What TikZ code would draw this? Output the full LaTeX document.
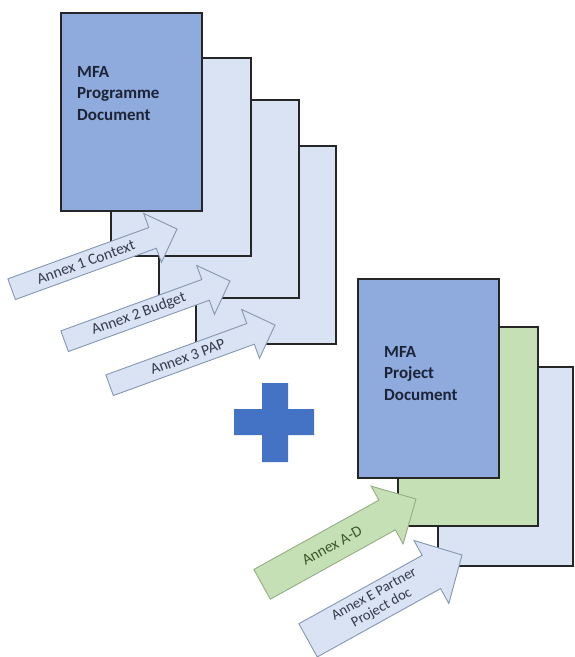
\documentclass[tikz,border=0pt]{standalone}
\usepackage{fontspec}
\setmainfont{Carlito}
\definecolor{docblue}{HTML}{8FAADC}
\definecolor{pageblue}{HTML}{DAE3F3}
\definecolor{pagegreen}{HTML}{C5E0B4}
\definecolor{plusblue}{HTML}{4472C4}
\definecolor{edgedark}{HTML}{262626}
\definecolor{arrowedge}{HTML}{8497B0}
\definecolor{greenedge}{HTML}{93AD85}
\definecolor{titleink}{HTML}{1C2336}
\definecolor{labelgrey}{HTML}{343a48}
\definecolor{labelgreen}{HTML}{3B5A28}
\begin{document}
\begin{tikzpicture}[x=1pt,y=-1pt,
  page/.style={draw=edgedark, line width=1.6pt, inner sep=0pt, anchor=north west,
    minimum width=140pt, minimum height=198pt},
  sheet/.style={page, fill=pageblue},
  maindoc/.style={page, fill=docblue},
  greensheet/.style={page, fill=pagegreen},
  doctitle/.style={anchor=north west, inner sep=0pt, align=left, text=titleink,
    font=\bfseries\fontsize{17}{21.6}\selectfont},
  annexblue/.style={draw=arrowedge, fill=pageblue, line width=0.9pt},
  annexgreen/.style={draw=greenedge, fill=pagegreen, line width=0.9pt},
  annexlabel/.style={transform shape, inner sep=0pt, align=center, text=labelgrey,
    font=\fontsize{15.5}{15}\selectfont},
  pluspart/.style={fill=plusblue, draw=none}]
\useasboundingbox (0,0) rectangle (574,657);

% programme document with its three annex sheets (back to front)
\node[sheet] (p4) at (195,145) {};
\node[sheet] (p3) at (158,99) {};
\node[sheet] (p2) at (110,57) {};
\node[maindoc, minimum width=141pt] (prog) at (60,12) {};
\node[doctitle] (progtitle) at (77,66) {MFA\\Programme\\Document};

% project document stack
\node[sheet, minimum width=135pt, minimum height=199pt] (q3) at (437,366) {};
\node[greensheet, minimum height=199pt] (q2) at (397,326) {};
\node[maindoc, minimum width=141pt, minimum height=199pt] (proj) at (357,278) {};
\node[doctitle] (projtitle) at (384,346) {MFA\\Project\\Document};

% plus sign
\fill[pluspart] (262,383) -- (288,383) -- (288,409) -- (314,409) -- (314,435)
  -- (288,435) -- (288,462) -- (262,462) -- (262,435) -- (234,435) -- (234,409)
  -- (262,409) -- cycle;

% block arrows: tip at the scope origin, pointing along +x
\begin{scope}[shift={(177,229)}, rotate=20]
  \path[annexblue] (0,0) -- (-26,26) -- (-26,11) -- (-176,11) -- (-176,-11)
    -- (-26,-11) -- (-26,-26) -- cycle;
  \node[annexlabel] (a1) at (-97,0) {Annex 1 Context};
\end{scope}
\begin{scope}[shift={(230,281)}, rotate=20]
  \path[annexblue] (0,0) -- (-26,26) -- (-26,11) -- (-176,11) -- (-176,-11)
    -- (-26,-11) -- (-26,-26) -- cycle;
  \node[annexlabel] (a2) at (-97,0) {Annex 2 Budget};
\end{scope}
\begin{scope}[shift={(275,325)}, rotate=20]
  \path[annexblue] (0,0) -- (-26,26) -- (-26,11) -- (-176,11) -- (-176,-11)
    -- (-26,-11) -- (-26,-26) -- cycle;
  \node[annexlabel] (a3) at (-93,0) {Annex 3 PAP};
\end{scope}
\begin{scope}[shift={(416,499)}, rotate=29]
  \path[annexgreen] (0,0) -- (-33,33) -- (-33,17) -- (-176,17) -- (-176,-17)
    -- (-33,-17) -- (-33,-33) -- cycle;
  \node[annexlabel, text=labelgreen] (ad) at (-96,0) {Annex A-D};
\end{scope}
\begin{scope}[shift={(462,555)}, rotate=29]
  \path[annexblue] (0,0) -- (-35,36) -- (-35,19) -- (-176,19) -- (-176,-19)
    -- (-35,-19) -- (-35,-36) -- cycle;
  \node[annexlabel, font=\fontsize{14.5}{15.5}\selectfont] (ae) at (-96,0) {Annex E Partner\\Project doc};
\end{scope}
\end{tikzpicture}
\end{document}
